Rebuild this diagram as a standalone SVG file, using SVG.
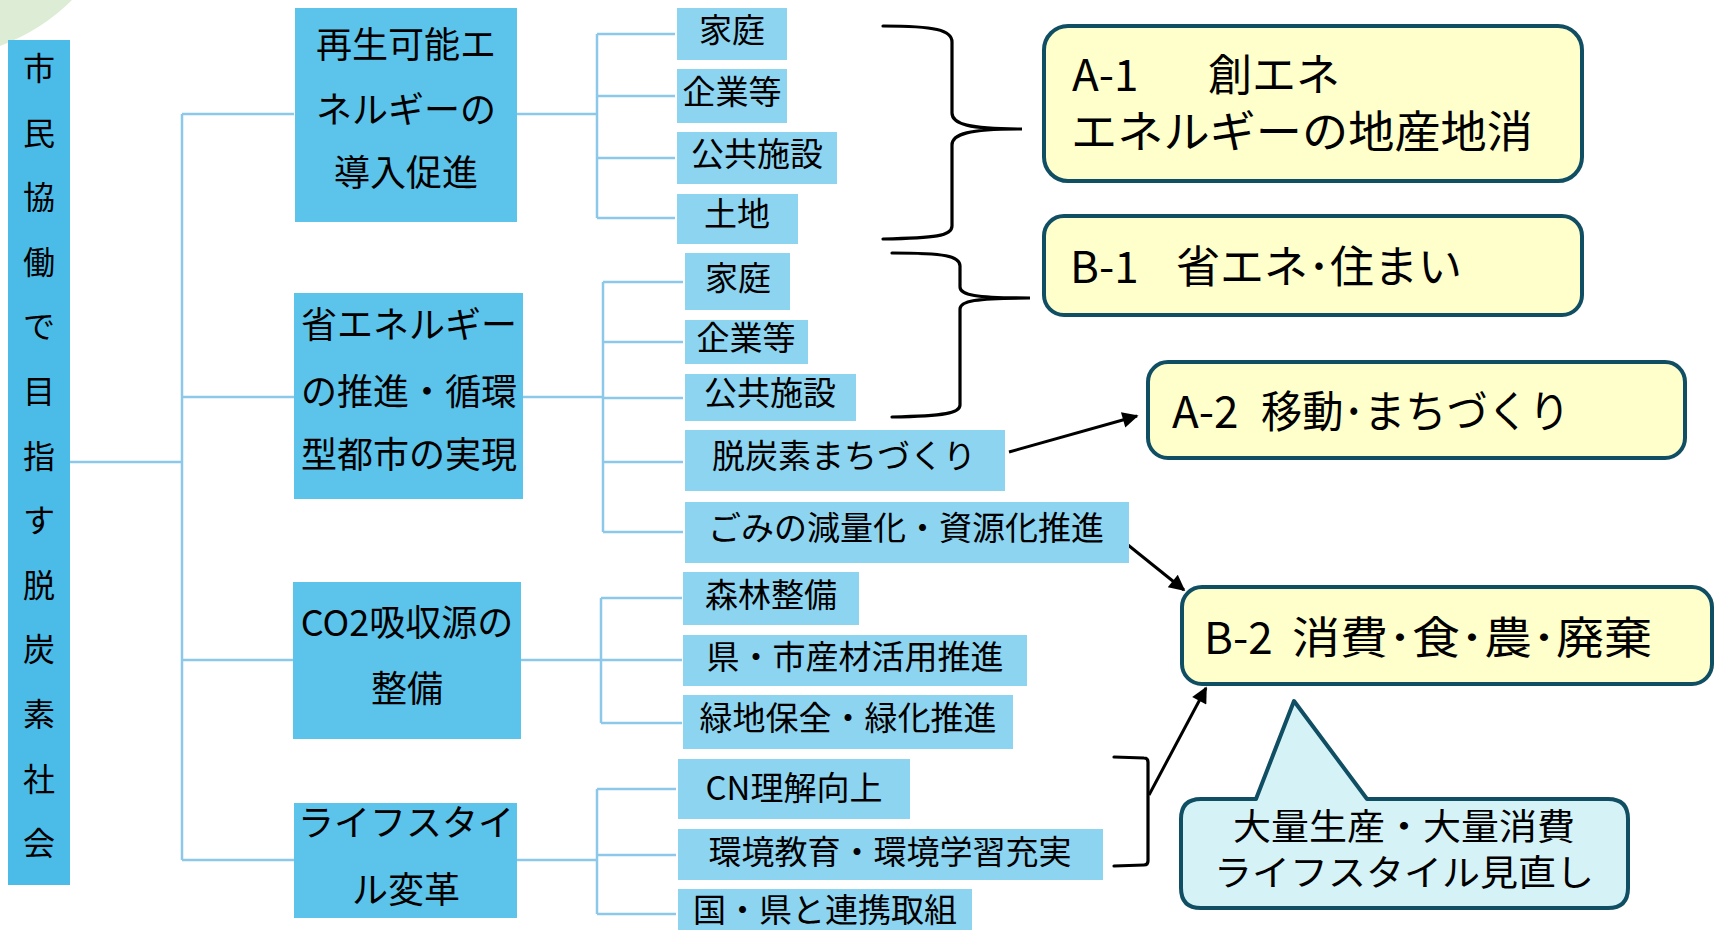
<svg xmlns="http://www.w3.org/2000/svg" width="1716" height="930" viewBox="0 0 1716 930">
<defs>
<style>
.t{font-family:"Noto Sans CJK JP","Noto Sans",sans-serif;fill:#000}
.root{fill:#4BBBE7}
.l1{fill:#5CC3EA}
.l2{fill:#8DD4F0}
.goal{fill:#FFFFCC;stroke:#104E64;stroke-width:4}
.call{fill:#D5F3F7;stroke:#104E64;stroke-width:4;stroke-linejoin:round}
.cn{fill:none;stroke:#8CC8EA;stroke-width:2.5}
.br{fill:none;stroke:#000;stroke-width:3.2;stroke-linecap:round}
.ar{fill:none;stroke:#000;stroke-width:3}
.f32{font-size:32px}.f33{font-size:33px}.f36{font-size:36px}.f44{font-size:44px}
.m{text-anchor:middle}
</style>
<marker id="ah" viewBox="0 0 10 10" refX="9" refY="5" markerWidth="18" markerHeight="16" markerUnits="userSpaceOnUse" orient="auto">
<path d="M0,0 L10,5 L0,10 Z" fill="#000"/>
</marker>
</defs>
<rect width="1716" height="930" fill="#fff"/>
<path d="M0,0 L72,0 Q42,30 0,46 Z" fill="#DDEDD5"/>

<g id="connectors">
<path class="cn" d="M70,462 H182 M182,114 V860 M182,114 H294 M182,397 H294 M182,660 H293 M182,860 H294"/>
<path class="cn" d="M517,114 H597 M597,34 V218 M597,34 H675 M597,96 H675 M597,158 H675 M597,218 H675"/>
<path class="cn" d="M523,397 H603 M603,282 V532 M603,282 H683 M603,342 H683 M603,398 H683 M603,462 H683 M603,532 H683"/>
<path class="cn" d="M521,660 H601 M601,598 V723 M601,598 H682 M601,660 H682 M601,723 H682"/>
<path class="cn" d="M517,860 H597 M597,789 V914 M597,789 H676 M597,855 H676 M597,914 H676"/>
<path class="br" d="M883,26 C935,26 952,30 952,42 L952,113 C952,124 968,129 1022,129 C968,129 952,134 952,145 L952,226 C952,236 935,238 883,239"/>
<path class="br" d="M892,253 C945,253 960,256 960,266 L960,287 C960,295 975,298 1030,298 C975,298 960,301 960,309 L960,405 C960,413 945,416 892,417"/>
<path class="br" d="M1114,757 L1144,758 Q1148,758 1148,762 L1148,861 Q1148,865 1144,865 L1114,866"/>
<path class="ar" d="M1009,452 L1137,416" marker-end="url(#ah)"/>
<path class="ar" d="M1128,545 L1184,590" marker-end="url(#ah)"/>
<path class="ar" d="M1149,795 L1206,688" marker-end="url(#ah)"/>
</g>

<g id="root">
<rect class="root" x="8" y="40" width="62" height="845"/>
<text class="t f32 m"><tspan x="39" y="80">市</tspan><tspan x="39" y="145">民</tspan><tspan x="39" y="209">協</tspan><tspan x="39" y="274">働</tspan><tspan x="39" y="338">で</tspan><tspan x="39" y="403">目</tspan><tspan x="39" y="468">指</tspan><tspan x="39" y="532">す</tspan><tspan x="39" y="597">脱</tspan><tspan x="39" y="661">炭</tspan><tspan x="39" y="726">素</tspan><tspan x="39" y="791">社</tspan><tspan x="39" y="855">会</tspan></text>
</g>

<g id="n1">
<rect class="l1" x="295" y="8" width="222" height="214"/>
<text class="t f36 m"><tspan x="406" y="58">再生可能エ</tspan><tspan x="406" y="123">ネルギーの</tspan><tspan x="406" y="186">導入促進</tspan></text>
</g>
<g id="n2">
<rect class="l1" x="294" y="293" width="229" height="206"/>
<text class="t f36 m"><tspan x="409" y="338">省エネルギー</tspan><tspan x="409" y="405">の推進・循環</tspan><tspan x="409" y="468">型都市の実現</tspan></text>
</g>
<g id="n3">
<rect class="l1" x="293" y="582" width="228" height="157"/>
<text class="t f36 m"><tspan x="407" y="636">CO2吸収源の</tspan><tspan x="407" y="702">整備</tspan></text>
</g>
<g id="n4">
<rect class="l1" x="294" y="803" width="223" height="115"/>
<text class="t f36 m"><tspan x="406" y="836">ライフスタイ</tspan><tspan x="406" y="903">ル変革</tspan></text>
</g>

<g id="g1a"><rect class="l2" x="677" y="8" width="110" height="52"/><text class="t f33 m" x="732" y="42">家庭</text></g>
<g id="g1b"><rect class="l2" x="677" y="69" width="110" height="54"/><text class="t f33 m" x="732" y="104">企業等</text></g>
<g id="g1c"><rect class="l2" x="677" y="132" width="160" height="52"/><text class="t f33 m" x="757" y="166">公共施設</text></g>
<g id="g1d"><rect class="l2" x="677" y="194" width="121" height="50"/><text class="t f33 m" x="737" y="226">土地</text></g>

<g id="g2a"><rect class="l2" x="685" y="253" width="105" height="57"/><text class="t f33 m" x="738" y="290">家庭</text></g>
<g id="g2b"><rect class="l2" x="685" y="320" width="123" height="44"/><text class="t f33 m" x="746" y="350">企業等</text></g>
<g id="g2c"><rect class="l2" x="685" y="374" width="171" height="47"/><text class="t f33 m" x="770" y="405">公共施設</text></g>
<g id="g2d"><rect class="l2" x="685" y="430" width="320" height="61"/><text class="t f33 m" x="844" y="468">脱炭素まちづくり</text></g>
<g id="g2e"><rect class="l2" x="685" y="502" width="444" height="61"/><text class="t f33 m" x="906" y="540">ごみの減量化・資源化推進</text></g>

<g id="g3a"><rect class="l2" x="683" y="572" width="176" height="53"/><text class="t f33 m" x="771" y="607">森林整備</text></g>
<g id="g3b"><rect class="l2" x="683" y="635" width="344" height="51"/><text class="t f33 m" x="855" y="669">県・市産材活用推進</text></g>
<g id="g3c"><rect class="l2" x="683" y="695" width="330" height="54"/><text class="t f33 m" x="848" y="730">緑地保全・緑化推進</text></g>

<g id="g4a"><rect class="l2" x="678" y="759" width="232" height="60"/><text class="t f33 m" x="794" y="800">CN理解向上</text></g>
<g id="g4b"><rect class="l2" x="678" y="829" width="425" height="51"/><text class="t f33 m" x="890" y="864">環境教育・環境学習充実</text></g>
<g id="g4c"><rect class="l2" x="678" y="889" width="294" height="45"/><text class="t f33 m" x="825" y="922">国・県と連携取組</text></g>

<g id="a1">
<rect class="goal" x="1044" y="26" width="538" height="155" rx="24"/>
<text class="t f44"><tspan x="1072" y="91">A-1</tspan><tspan x="1208" y="91">創エネ</tspan><tspan x="1071" y="148" textLength="462" lengthAdjust="spacingAndGlyphs">エネルギーの地産地消</tspan></text>
</g>
<g id="b1">
<rect class="goal" x="1044" y="216" width="538" height="99" rx="20"/>
<text class="t f44"><tspan x="1070" y="283">B-1</tspan><tspan x="1176" y="283">省エネ･住まい</tspan></text>
</g>
<g id="a2">
<rect class="goal" x="1148" y="362" width="537" height="96" rx="20"/>
<text class="t f44" x="1172" y="428">A-2</text>
<text class="t f44" x="1261" y="428" textLength="309" lengthAdjust="spacingAndGlyphs">移動･まちづくり</text>
</g>
<g id="b2">
<rect class="goal" x="1182" y="587" width="530" height="97" rx="20"/>
<text class="t f44" x="1204" y="654">B-2</text>
<text class="t f44" x="1292" y="654" textLength="360" lengthAdjust="spacingAndGlyphs">消費･食･農･廃棄</text>
</g>
<g id="callout">
<path class="call" d="M1201,799 L1256,799 L1294,701 L1367,799 L1608,799 Q1628,799 1628,819 L1628,888 Q1628,908 1608,908 L1201,908 Q1181,908 1181,888 L1181,819 Q1181,799 1201,799 Z"/>
<text class="t f36 m"><tspan x="1404" y="840" textLength="342" lengthAdjust="spacingAndGlyphs">大量生産・大量消費</tspan><tspan x="1404" y="886" textLength="380" lengthAdjust="spacingAndGlyphs">ライフスタイル見直し</tspan></text>
</g>
</svg>
